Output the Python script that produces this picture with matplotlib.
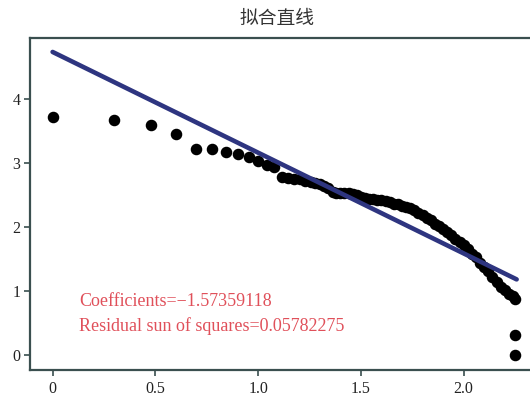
import numpy as np
import matplotlib
matplotlib.use("Agg")
import matplotlib.pyplot as plt

# data (log rank vs log value)
x_pts = [0.0, 0.301, 0.477, 0.602, 0.699, 0.778, 0.845, 0.903, 0.954, 1.0,
         1.041, 1.079, 1.114, 1.146, 1.176, 1.204, 1.230, 1.255, 1.279, 1.301,
         1.322, 1.342, 1.362, 1.38, 1.40, 1.42, 1.44, 1.46, 1.48, 1.50,
         1.52, 1.54, 1.56, 1.58, 1.60, 1.62, 1.64, 1.66, 1.68, 1.70,
         1.72, 1.74, 1.76, 1.78, 1.80, 1.82, 1.84, 1.86, 1.88, 1.90,
         1.92, 1.94, 1.96, 1.98, 2.00, 2.02, 2.04, 2.06, 2.08, 2.10,
         2.12, 2.14, 2.16, 2.18, 2.20, 2.22, 2.24, 2.25, 2.25, 2.25]
y_pts = [3.71, 3.66, 3.59, 3.45, 3.21, 3.21, 3.16, 3.14, 3.09, 3.03,
         2.97, 2.93, 2.77, 2.76, 2.75, 2.74, 2.72, 2.70, 2.68, 2.66,
         2.64, 2.60, 2.54, 2.53, 2.53, 2.52, 2.52, 2.51, 2.50, 2.47,
         2.45, 2.44, 2.43, 2.42, 2.41, 2.40, 2.38, 2.36, 2.35, 2.33,
         2.31, 2.29, 2.26, 2.22, 2.18, 2.14, 2.10, 2.05, 2.01, 1.96,
         1.92, 1.87, 1.81, 1.76, 1.71, 1.65, 1.58, 1.52, 1.44, 1.37,
         1.31, 1.22, 1.13, 1.06, 1.01, 0.95, 0.91, 0.87, 0.31, 0.00]

slope = -1.57359118
intercept = 4.73
rss = 0.05782275
fit_x = [0.0, 2.258]

x_ticks = [0, 0.5, 1.0, 1.5, 2.0]
x_labels = ["0", "0.5", "1.0", "1.5", "2.0"]
y_ticks = [0, 1, 2, 3, 4]
y_labels = ["0", "1", "2", "3", "4"]

spine_c = "#3a4f4f"

fig = plt.figure(figsize=(5.30, 3.96), dpi=100)
ax = fig.add_axes([30 / 530, 26.3 / 396, 1 - 30 / 530, 331.7 / 396])

ax.plot(x_pts, y_pts, "o", color="black", ms=7.3, mec="black", zorder=2)
fx = np.array(fit_x)
ax.plot(fx, intercept + slope * fx, color="#2e3580", lw=3.3, solid_capstyle="round", zorder=3)

ax.set_xlim(-0.110, 2.323)
ax.set_ylim(-0.234, 4.948)
ax.set_xticks(x_ticks)
ax.set_xticklabels(x_labels)
ax.set_yticks(y_ticks)
ax.set_yticklabels(y_labels)

for s in ["left", "bottom", "top"]:
    ax.spines[s].set_color(spine_c)
    ax.spines[s].set_linewidth(1.6)
ax.spines["right"].set_visible(False)
ax.tick_params(colors=spine_c, length=4, width=1.2, labelcolor="#222222",
               labelsize=11.5, direction="out")
for lab in ax.get_xticklabels() + ax.get_yticklabels():
    lab.set_family("Liberation Serif")
ax.tick_params(axis="y", pad=3)
ax.tick_params(axis="x", pad=4)

ax.text(0.13, 0.83, "Coefficients=\u2212%.8f" % abs(slope), color="#e0505a",
        fontsize=13, family="Liberation Serif", va="center")
ax.text(0.13, 0.45, "Residual sun of squares=%.8f" % rss, color="#e0505a",
        fontsize=13, family="Liberation Serif", va="center")

fig.text(0.5 * (1 + 30 / 530) - 0.005, 1 - 18 / 396, "拟合直线", ha="center", va="center",
         fontsize=13.5, color="#333333", family=["Noto Sans CJK SC", "DejaVu Sans"])

fig.savefig("out.png", dpi=100)
